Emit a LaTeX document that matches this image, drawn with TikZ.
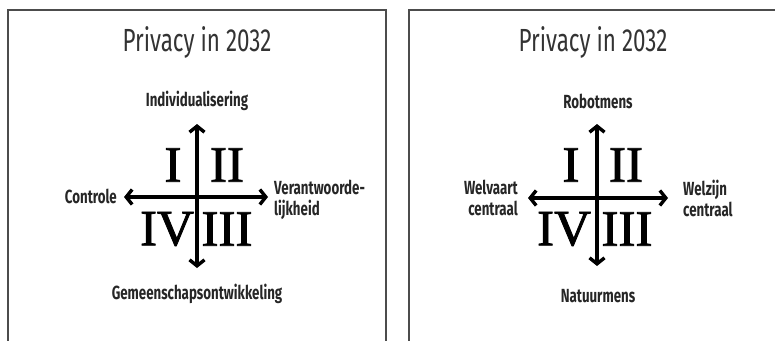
\documentclass[tikz,border=0pt]{standalone}
\usepackage{fontspec}
\setmainfont{Liberation Serif}
\newfontfamily\labelfont{Fira Sans}[FakeStretch=0.70]
\newfontfamily\quadfont{Liberation Serif}[FakeBold=1.6]
\usetikzlibrary{arrows.meta}

\begin{document}
\begin{tikzpicture}[x=1pt,y=-1pt,
	panel/.style={draw=black!70, line width=1.2pt},
	axis/.style={line width=3.4pt, {Straight Barb[length=6pt,width=15pt,line width=3.4pt]}-{Straight Barb[length=6pt,width=15pt,line width=3.4pt]}},
	title/.style={font=\labelfont\fontsize{32}{32}\selectfont, text=black!80, inner sep=0pt},
	pole/.style={font=\labelfont\bfseries\fontsize{19}{21}\selectfont, text=black!85, inner sep=0pt},
	quad/.style={font=\quadfont\fontsize{51}{51}\selectfont, inner sep=0pt}]
	\useasboundingbox (0,0) rectangle (775,340);
	% frames
	\draw[panel] (8,341) -- (8,10) -- (386,10) -- (386,341);
	\draw[panel] (409,341) -- (409,10) -- (776,10);
	% left panel
	\node[title] (titleA) at (197,42) {Privacy in 2032};
	\coordinate (topA) at (197,124);
	\coordinate (botA) at (197,268);
	\coordinate (leftA) at (124,197);
	\coordinate (rightA) at (268,197);
	\draw[axis] (botA) -- (topA);
	\draw[axis] (leftA) -- (rightA);
	\node[quad] (IA) at (173,165) {I};
	\node[quad] (IIA) at (227,165) {II};
	\node[quad] (IVA) at (167,229) {IV};
	\node[quad] (IIIA) at (227,229) {III};
	\node[pole] (northA) at (197,101) {Individualisering};
	\node[pole, anchor=east] (westA) at (117,196) {Controle};
	\node[pole, anchor=west, align=left] (eastA) at (274,200) {Verantwoorde-\\lijkheid};
	\node[pole] (southA) at (197,294) {Gemeenschapsontwikkeling};
	% right panel
	\node[title] (titleB) at (593,42) {Privacy in 2032};
	\coordinate (topB) at (597,124);
	\coordinate (botB) at (597,266);
	\coordinate (leftB) at (528,198);
	\coordinate (rightB) at (668,198);
	\draw[axis] (botB) -- (topB);
	\draw[axis] (leftB) -- (rightB);
	\node[quad] (IB) at (571,165) {I};
	\node[quad] (IIB) at (626,165) {II};
	\node[quad] (IVB) at (564,229) {IV};
	\node[quad] (IIIB) at (627,229) {III};
	\node[pole] (northB) at (598,101) {Robotmens};
	\node[pole, anchor=east, align=right] (westB) at (518,198) {Welvaart\\centraal};
	\node[pole, anchor=west, align=left] (eastB) at (683,198) {Welzijn\\centraal};
	\node[pole] (southB) at (598,296) {Natuurmens};
\end{tikzpicture}
\end{document}
